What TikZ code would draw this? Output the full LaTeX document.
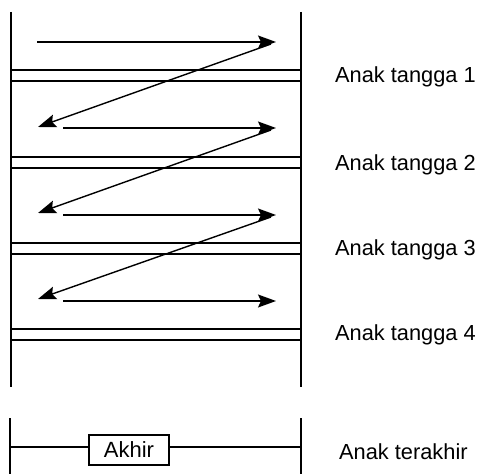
\documentclass[tikz,border=0pt]{standalone}
\usepackage{fontspec}
\setmainfont{Liberation Sans}
\usetikzlibrary{arrows.meta}
\begin{document}
\begin{tikzpicture}[x=1pt,y=1pt,
  rail/.style={line width=1.7pt},
  rung/.style={line width=1.2pt},
  flow/.style={line width=1.4pt,-{Stealth[length=18pt,width=13pt,inset=3pt]}},
  lbl/.style={anchor=west,inner sep=0pt,font=\fontsize{21.8}{23}\selectfont},
  endbox/.style={draw,line width=1.4pt,minimum width=80pt,minimum height=30pt,inner sep=0pt,font=\fontsize{22}{24}\selectfont}]
\useasboundingbox (0,0) rectangle (479,474);
% rails
\coordinate (LT) at (11,462); \coordinate (LB) at (11,87);
\coordinate (RT) at (301,462); \coordinate (RB) at (301,87);
\draw[rail] (LT) -- (LB);
\draw[rail] (RT) -- (RB);
% rungs
\foreach \y [count=\i] in {404,317,231,145}{
  \coordinate (a\i) at (11,\y); \coordinate (b\i) at (301,\y);
  \coordinate (c\i) at (11,\y-11); \coordinate (d\i) at (301,\y-11);
  \draw[rung] (a\i) -- (b\i);
  \draw[rung] (c\i) -- (d\i);
}
% arrows
\coordinate (s1) at (37,432); \coordinate (e1) at (276,432);
\coordinate (s2) at (63,346); \coordinate (e2) at (276,346);
\coordinate (s3) at (63,259); \coordinate (e3) at (276,259);
\coordinate (s4) at (63,173); \coordinate (e4) at (276,173);
\coordinate (t1) at (271,430); \coordinate (f1) at (38,347);
\coordinate (t2) at (271,344); \coordinate (f2) at (38,261);
\coordinate (t3) at (271,257); \coordinate (f3) at (38,175);
\draw[flow] (s1) -- (e1);
\draw[flow] (s2) -- (e2);
\draw[flow] (s3) -- (e3);
\draw[flow] (s4) -- (e4);
\draw[flow] (t1) -- (f1);
\draw[flow] (t2) -- (f2);
\draw[flow] (t3) -- (f3);
% labels
\node[lbl] (L1) at (335,397) {Anak tangga 1};
\node[lbl] (L2) at (335,309) {Anak tangga 2};
\node[lbl] (L3) at (335,224) {Anak tangga 3};
\node[lbl] (L4) at (335,139) {Anak tangga 4};
\node[lbl] (L5) at (339,22) {Anak terakhir};
% last rung
\coordinate (BLT) at (10,56); \coordinate (BLB) at (10,0);
\coordinate (BRT) at (301,56); \coordinate (BRB) at (301,0);
\draw[rail] (BLT) -- (BLB);
\draw[rail] (BRT) -- (BRB);
\node[endbox] (akhir) at (129,24) {Akhir};
\coordinate (ml) at (10,27); \coordinate (mr) at (301,27);
\draw[rung] (ml) -- (akhir.west |- ml);
\draw[rung] (akhir.east |- mr) -- (mr);
\end{tikzpicture}
\end{document}
